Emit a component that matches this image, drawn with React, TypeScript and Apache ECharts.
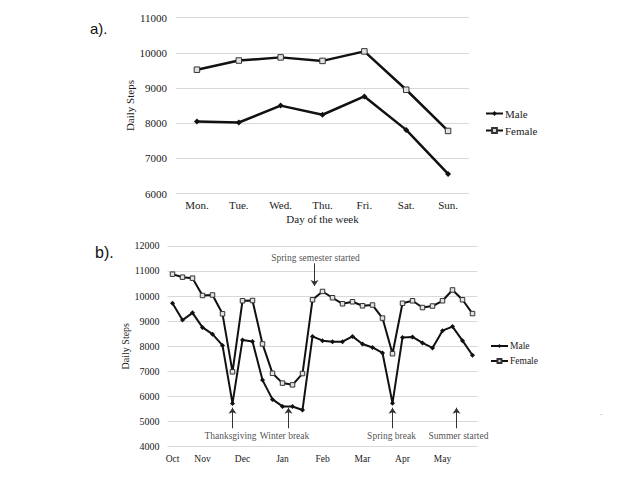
import React, { useEffect, useRef } from "react";
import * as echarts from "echarts";

// ---- Chart a) : by day of the week ----
const days = ["Mon.", "Tue.", "Wed.", "Thu.", "Fri.", "Sat.", "Sun."];
const maleByDay = [8050, 8020, 8500, 8240, 8760, 7810, 6560];
const femaleByDay = [9520, 9780, 9870, 9770, 10040, 8950, 7780];

// ---- Chart b) : weekly, Oct -> May ----
const maleByWeek = [
  9710, 9040, 9330, 8750, 8480, 8030, 5720, 8250, 8190, 6650, 5880, 5600, 5600, 5460, 8390, 8220,
  8180, 8180, 8390, 8090, 7950, 7730, 5730, 8350, 8370, 8130, 7930, 8620, 8780, 8220, 7640,
];
const femaleByWeek = [
  10870, 10750, 10710, 10020, 10040, 9290, 6980, 9810, 9820, 8090, 6920, 6530, 6460, 6910, 9850, 10180,
  9930, 9690, 9770, 9610, 9640, 9120, 7700, 9710, 9810, 9540, 9600, 9810, 10240, 9850, 9300,
];
const monthNames = ["Oct", "Nov", "Dec", "Jan", "Feb", "Mar", "Apr", "May"];
const monthStartWeek = [0, 3, 7, 11, 15, 19, 23, 27];

// annotations (x in week index units, y in daily steps)
const eventNames = ["Thanksgiving", "Winter break", "Spring semester started", "Spring break", "Summer started"];
const eventWeek = [6.0, 11.6, 14.2, 22.0, 28.4];
const arrowFrom = [4730, 4730, 11300, 4730, 4730];
const arrowTo = [5550, 5550, 10400, 5550, 5550];
const labelWeek = [5.8, 11.2, 14.3, 21.9, 28.6];
const labelSteps = [4420, 4420, 11530, 4420, 4420];

const SERIF = "Liberation Serif";
const LINE = "#111";
const GRID = "#d9d9d9";
const TEXT = "#1a1a1a";

export default function App() {
  const ref = useRef<HTMLDivElement>(null);

  useEffect(() => {
    if (!ref.current) return;
    const chart = echarts.init(ref.current, null, { renderer: "svg" });
    const weeks = maleByWeek.map((_, i) => String(i + 1));
    const plain = (v: number) => String(v);

    const maleStyle = (size: number, width: number) => ({
      symbol: "diamond",
      symbolSize: size,
      showSymbol: true,
      itemStyle: { color: LINE },
      lineStyle: { color: LINE, width },
    });
    const femaleStyle = (size: number, width: number) => ({
      symbol: "rect",
      symbolSize: size,
      showSymbol: true,
      itemStyle: { color: "#e2e2e2", borderColor: "#333", borderWidth: 1 },
      lineStyle: { color: LINE, width },
    });

    chart.setOption({
      animation: false,
      backgroundColor: "#fff",
      title: [
        { text: "a).", left: 90, top: 21, padding: 0, textStyle: { fontFamily: "Liberation Sans", fontSize: 15, fontWeight: "normal", color: "#111" } },
        { text: "b).", left: 95, top: 244, padding: 0, textStyle: { fontFamily: "Liberation Sans", fontSize: 16, fontWeight: "normal", color: "#111" } },
      ],
      graphic: [
        { type: "text", left: 600, top: 407, style: { text: ".", fontSize: 9, fill: "#777", fontFamily: SERIF } },
      ],
      legend: [
        {
          orient: "vertical",
          left: 480,
          top: 103,
          itemWidth: 17,
          itemHeight: 6,
          itemGap: 6,
          data: ["Male", "Female"],
          textStyle: { fontFamily: SERIF, fontSize: 11, color: TEXT, padding: [0, 0, 0, -3] },
          selectedMode: false,
        },
        {
          orient: "vertical",
          left: 485,
          top: 336,
          itemWidth: 17,
          itemHeight: 5,
          itemGap: 5,
          data: ["Male", "Female"],
          textStyle: { fontFamily: SERIF, fontSize: 9.5, color: TEXT, padding: [0, 0, 0, -3] },
          selectedMode: false,
        },
      ],
      grid: [
        { left: 176, top: 17.6, width: 293, height: 176 },
        { left: 167.5, top: 245.8, width: 310, height: 200.8 },
      ],
      xAxis: [
        {
          type: "category",
          gridIndex: 0,
          data: days,
          boundaryGap: true,
          axisLine: { show: false },
          axisTick: { show: false },
          axisLabel: { fontFamily: SERIF, fontSize: 11, color: TEXT, margin: 6 },
          name: "Day of the week",
          nameLocation: "middle",
          nameGap: 20,
          nameTextStyle: { fontFamily: SERIF, fontSize: 11, color: TEXT },
        },
        {
          type: "category",
          gridIndex: 1,
          data: weeks,
          boundaryGap: true,
          axisLine: { show: false },
          axisTick: { show: false },
          axisLabel: {
            fontFamily: SERIF,
            fontSize: 9.5,
            color: TEXT,
            margin: 7,
            interval: (i: number) => monthStartWeek.includes(i),
            formatter: (_v: string, i: number) => {
              const k = monthStartWeek.indexOf(i);
              return k >= 0 ? monthNames[k] : "";
            },
          },
        },
        { type: "value", gridIndex: 1, min: -0.5, max: 30.5, show: false },
      ],
      yAxis: [
        {
          type: "value",
          gridIndex: 0,
          min: 6000,
          max: 11000,
          interval: 1000,
          axisLine: { show: false },
          axisTick: { show: false },
          splitLine: { lineStyle: { color: GRID, width: 1 } },
          axisLabel: { fontFamily: SERIF, fontSize: 11, color: TEXT, margin: 9, formatter: plain },
          name: "Daily Steps",
          nameLocation: "middle",
          nameGap: 37,
          nameTextStyle: { fontFamily: SERIF, fontSize: 11, color: TEXT },
        },
        {
          type: "value",
          gridIndex: 1,
          min: 4000,
          max: 12000,
          interval: 1000,
          axisLine: { show: false },
          axisTick: { show: false },
          splitLine: { lineStyle: { color: GRID, width: 1 } },
          axisLabel: { fontFamily: SERIF, fontSize: 10, color: TEXT, margin: 8, formatter: plain },
          name: "Daily Steps",
          nameLocation: "middle",
          nameGap: 32,
          nameTextStyle: { fontFamily: SERIF, fontSize: 10, color: TEXT },
        },
      ],
      series: [
        { name: "Male", type: "line", xAxisIndex: 0, yAxisIndex: 0, data: maleByDay, ...maleStyle(6, 2.5) },
        { name: "Female", type: "line", xAxisIndex: 0, yAxisIndex: 0, data: femaleByDay, ...femaleStyle(5.5, 2.5) },
        { name: "Male", type: "line", xAxisIndex: 1, yAxisIndex: 1, data: maleByWeek, ...maleStyle(5, 2) },
        { name: "Female", type: "line", xAxisIndex: 1, yAxisIndex: 1, data: femaleByWeek, ...femaleStyle(4.5, 2) },
        {
          name: "events",
          type: "scatter",
          xAxisIndex: 2,
          yAxisIndex: 1,
          symbolSize: 1,
          itemStyle: { color: "rgba(0,0,0,0)" },
          silent: true,
          label: {
            show: true,
            position: "inside",
            formatter: "{b}",
            fontFamily: SERIF,
            fontSize: 9.5,
            color: TEXT,
          },
          data: eventNames.map((n, i) => ({ name: n, value: [labelWeek[i], labelSteps[i]] })),
          markLine: {
            silent: true,
            symbol: ["none", "arrow"],
            symbolSize: 6,
            label: { show: false },
            lineStyle: { color: "#333", width: 1, type: "solid" },
            data: eventWeek.map((x, i) => [{ coord: [x, arrowFrom[i]] }, { coord: [x, arrowTo[i]] }]),
          },
        },
      ],
    });
    return () => chart.dispose();
  }, []);

  return (
    <div
      ref={ref}
      style={{ position: "fixed", left: 0, top: 0, width: 624, height: 490, background: "#fff" }}
    />
  );
}
